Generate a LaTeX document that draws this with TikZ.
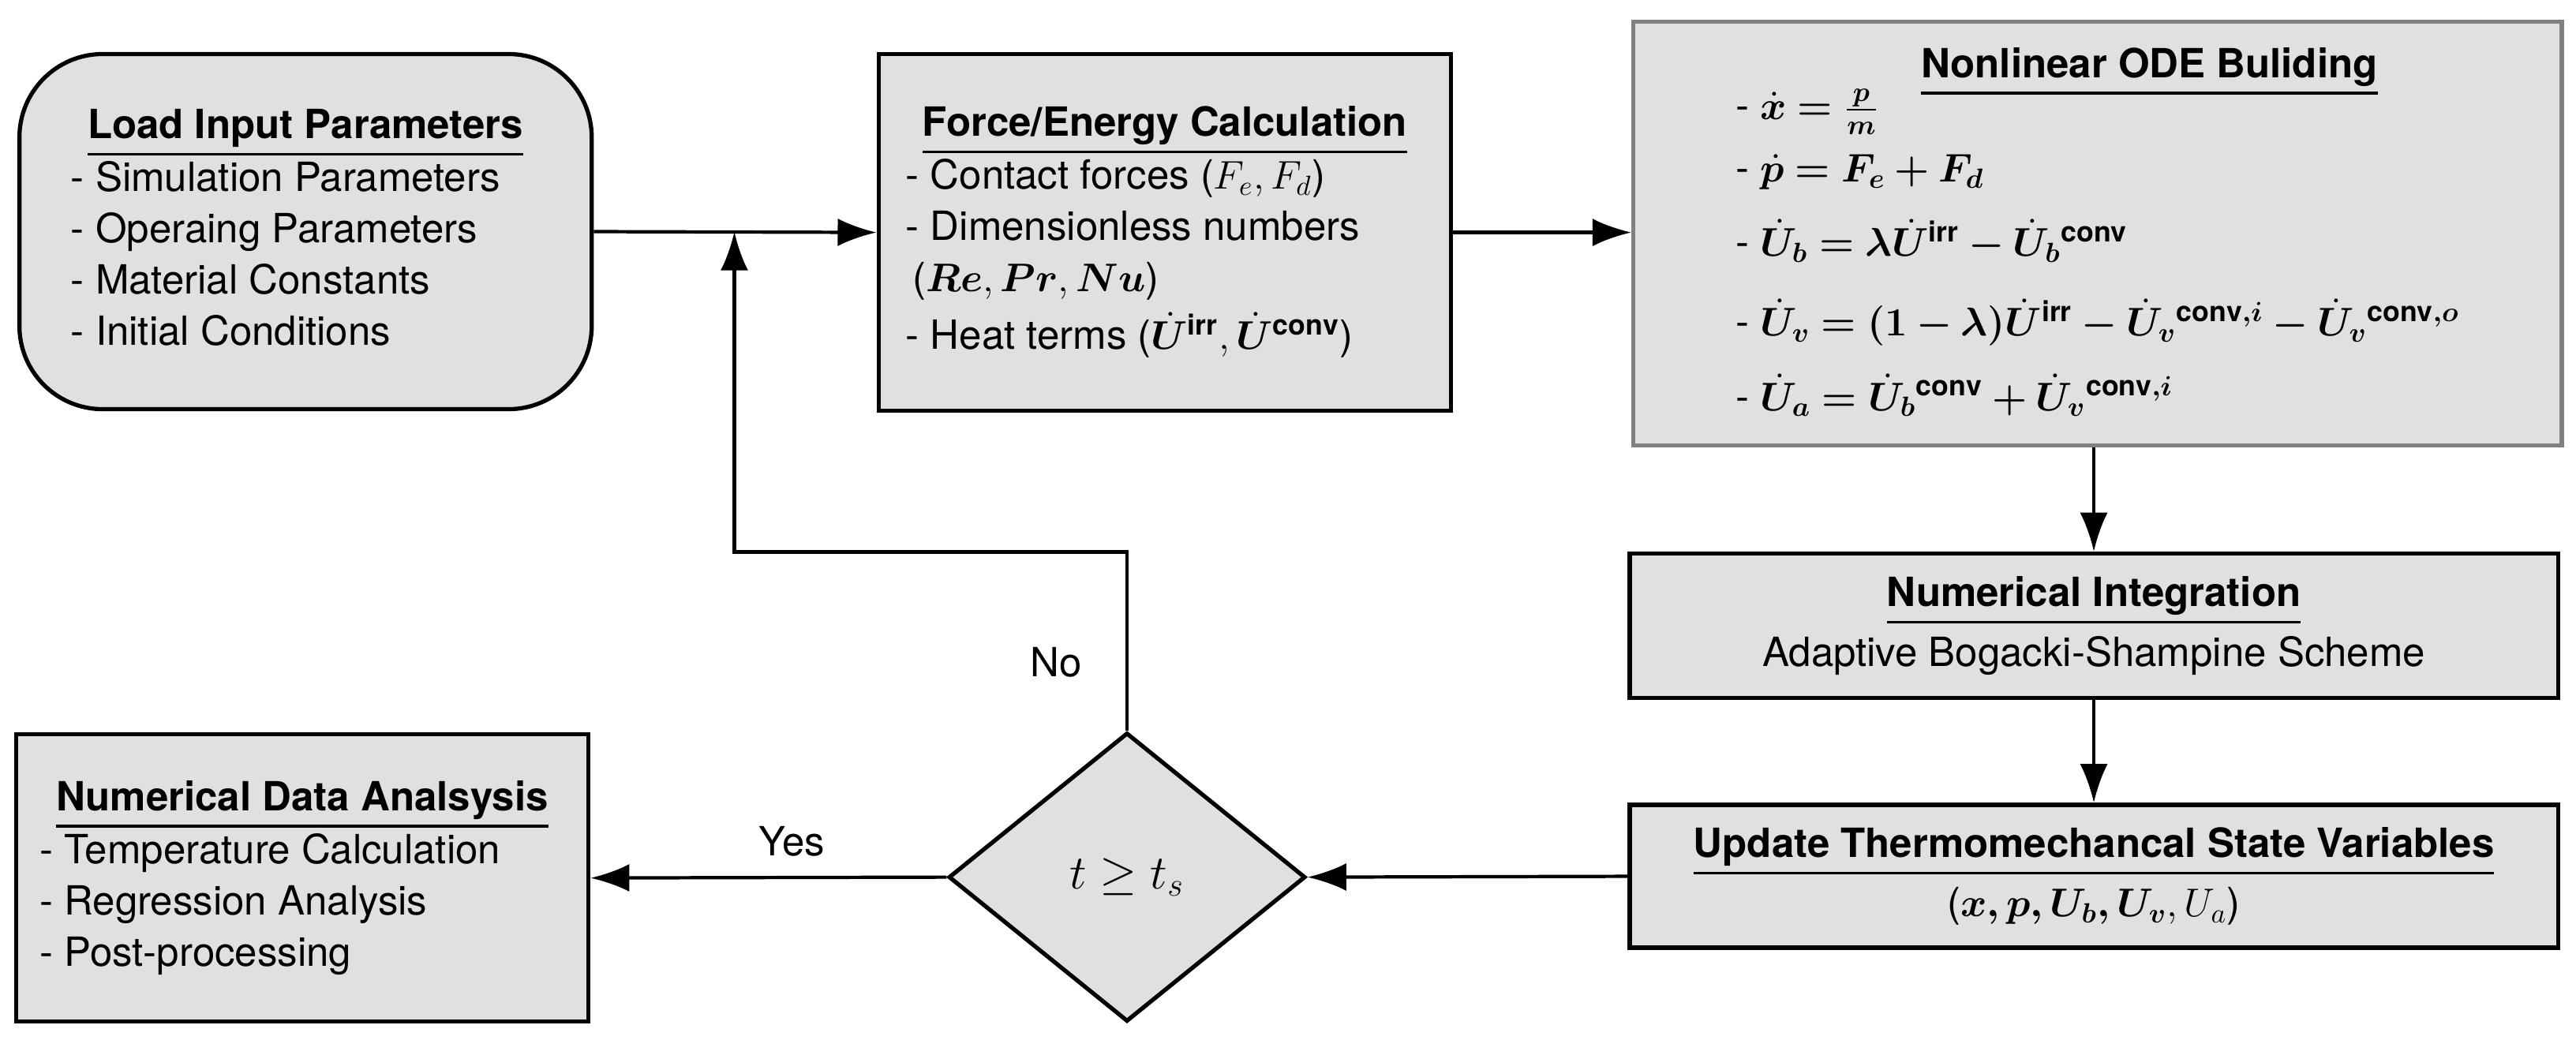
\documentclass[tikz,border=0pt]{standalone}
\usepackage{amsmath,bm}
\usepackage{fontspec}
\setmainfont{TeX Gyre Heros}
\usetikzlibrary{shapes.geometric,arrows.meta}
\definecolor{boxfill}{HTML}{E0E0E0}
\newcommand{\uln}[1]{\leavevmode\vtop{\hbox{#1}\kern2pt\hrule height 1pt}}
\tikzset{
  box/.style={draw=black,fill=boxfill,line width=1.5pt,inner sep=0pt,font=\fontsize{14.5}{18.5}\selectfont},
  conn/.style={line width=1.2pt,-{Latex[length=14pt,width=10pt]}},
  lbl/.style={font=\fontsize{14.5}{17}\selectfont}
}
\newcommand{\ttl}[1]{\multicolumn{1}{c}{\uln{\textbf{#1}}}}
\begin{document}
\begin{tikzpicture}[x=0.02082cm,y=-0.02082cm]
\useasboundingbox (0,0) rectangle (1568,633);
\node[box,rounded corners=30pt,minimum width=7.25cm,minimum height=4.5cm] (load) at (186,141)
 {\begin{tabular}{@{}l@{}}\ttl{Load Input Parameters}\\- Simulation Parameters\\- Operaing Parameters\\- Material Constants\\- Initial Conditions\end{tabular}};
\node[box,minimum width=7.25cm,minimum height=4.52cm] (force) at (709,141.5)
 {\begin{tabular}{@{}l@{}}\ttl{Force/Energy Calculation}\\- Contact forces ($F_e,F_d$)\\- Dimensionless numbers\\ \,($\bm{Re},\bm{Pr},\bm{Nu}$)\\[2pt]- Heat terms ($\bm{\dot U^{\mathrm{irr}}},\bm{\dot U^{\mathrm{conv}}}$)\end{tabular}};
\node[box,draw=gray,minimum width=11.76cm,minimum height=5.37cm,anchor=north west,inner xsep=10pt,inner ysep=6pt,align=left] (ode) at (993,12)
 {\begin{tabular}{@{}l@{}}\hspace*{2.35cm}\uln{\textbf{Nonlinear ODE Buliding}}\\[-4pt]
 - $\bm{\dot x = \frac{p}{m}}$\\[4pt]
 - $\bm{\dot p = F_e + F_d}$\\[8pt]
 - $\bm{\dot U_b = \lambda \dot U^{\mathrm{irr}} - \dot U_b{}^{\mathrm{conv}}}$\\[10pt]
 - $\bm{\dot U_v = (1-\lambda)\dot U^{\mathrm{irr}} - \dot U_v{}^{\mathrm{conv},i} - \dot U_v{}^{\mathrm{conv},o}}$\\[8pt]
 - $\bm{\dot U_a = \dot U_b{}^{\mathrm{conv}} + \dot U_v{}^{\mathrm{conv},i}}$\end{tabular}};
\node[box,minimum width=11.76cm,minimum height=1.83cm,align=center] (integ) at (1274.5,381)
 {\uln{\textbf{Numerical Integration}}\\[3pt]Adaptive Bogacki-Shampine Scheme};
\node[box,minimum width=11.76cm,minimum height=1.81cm,align=center] (upd) at (1274.5,533.5)
 {\uln{\textbf{Update Thermomechancal State Variables}}\\[3pt]($\bm{x,p,U_b,U_v},U_a$)};
\node[box,diamond,shape aspect=1.235,minimum width=4.52cm,minimum height=3.66cm,font=\fontsize{17}{20}\selectfont] (dec) at (686,534) {$t\geq t_s$};
\node[box,minimum width=7.25cm,minimum height=3.64cm] (ana) at (184,534.5)
 {\begin{tabular}{@{}l@{}}\ttl{Numerical Data Analsysis}\\- Temperature Calculation\\- Regression Analysis\\- Post-processing\end{tabular}};
\coordinate (c1) at (686,336);
\coordinate (c2) at (447,336);
\coordinate (c3) at (447,141);
\draw[conn] (load.east) -- (force.west);
\draw[conn] (force.east) -- (force.east -| ode.west);
\draw[conn] (ode.south -| integ.north) -- (integ.north);
\draw[conn] (integ.south) -- (upd.north);
\draw[conn] (upd.west) -- (dec.east);
\draw[conn] (dec.west) -- (ana.east);
\draw[conn] (dec.north) -- (c1) -- (c2) -- (c3);
\node[lbl] (no) at (643,403) {No};
\node[lbl] (yes) at (482,512) {Yes};
\end{tikzpicture}
\end{document}
